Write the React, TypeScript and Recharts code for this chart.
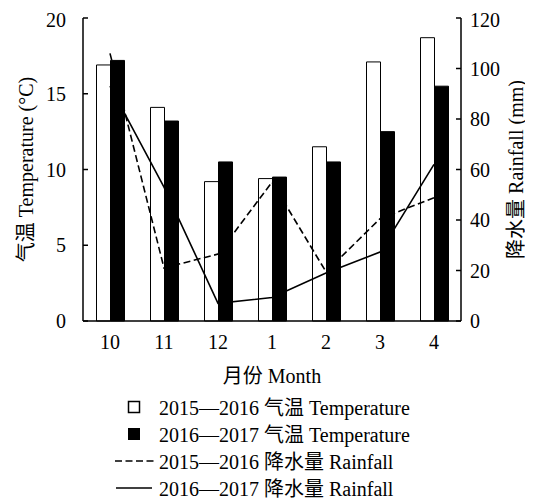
import React from 'react';
import {
  ComposedChart,
  Bar,
  Line,
  XAxis,
  YAxis,
  Legend
} from 'recharts';

// months (Oct -> Apr)
const months = ['10', '11', '12', '1', '2', '3', '4'];

// temperature (°C), bars
const temp1516 = [16.9, 14.1, 9.2, 9.4, 11.5, 17.1, 18.7];
const temp1617 = [17.2, 13.2, 10.5, 9.5, 10.5, 12.5, 15.5];

// rainfall (mm), lines
const rain1516 = [106, 21, 26.5, 55, 19.5, 40.5, 48.8];
const rain1617 = [93, 53, 7, 9.3, 19, 27.3, 62];

const tempTicks = [0, 5, 10, 15, 20];
const rainTicks = [0, 20, 40, 60, 80, 100, 120];
const boundaryTicks = [0, 1, 2, 3, 4, 5, 6, 7];

const FONT = "'Liberation Serif', 'Times New Roman', 'Noto Sans CJK SC', serif";

const data = months.map((m, i) => ({
  month: m,
  t1: temp1516[i],
  t2: temp1617[i],
  r1: rain1516[i],
  r2: rain1617[i]
}));

const legendItems = [
  { key: 't1', label: '2015—2016 气温 Temperature', kind: 'open' },
  { key: 't2', label: '2016—2017 气温 Temperature', kind: 'filled' },
  { key: 'r1', label: '2015—2016 降水量 Rainfall', kind: 'dashed' },
  { key: 'r2', label: '2016—2017 降水量 Rainfall', kind: 'solid' }
];

function LegendIcon({ kind }: { kind: string }) {
  return (
    <svg width={44} height={14} style={{ display: 'block' }}>
      {kind === 'open' && (
        <rect x={13.5} y={1.5} width={11} height={11} fill="#fff" stroke="#000" strokeWidth={1.5} />
      )}
      {kind === 'filled' && <rect x={13} y={1} width={12} height={12} fill="#000" />}
      {kind === 'dashed' && (
        <line x1={0} y1={7} x2={41} y2={7} stroke="#000" strokeWidth={1.5} strokeDasharray="7 3.5" />
      )}
      {kind === 'solid' && <line x1={1} y1={7} x2={37} y2={7} stroke="#000" strokeWidth={1.5} />}
    </svg>
  );
}

function ChartLegend() {
  return (
    <div style={{ fontFamily: FONT, fontSize: 20, color: '#000' }}>
      {legendItems.map((it) => (
        <div key={it.key} style={{ display: 'flex', alignItems: 'center', height: 27 }}>
          <LegendIcon kind={it.kind} />
          <span style={{ whiteSpace: 'nowrap' }}>{it.label}</span>
        </div>
      ))}
    </div>
  );
}

export default function App() {
  const tickStyle = { fontSize: 20, fill: '#000', fontFamily: FONT };
  return (
    <div style={{ width: 525, height: 494, background: '#fff' }}>
      <ComposedChart
        width={525}
        height={494}
        data={data}
        barCategoryGap="25%"
        barGap={0}
        margin={{ top: 10, right: 22, bottom: 121, left: 15 }}
      >
        <XAxis
          xAxisId="bounds"
          type="number"
          domain={[0, 7]}
          ticks={boundaryTicks}
          height={0}
          mirror
          tick={false}
          tickSize={5}
          axisLine={false}
          tickLine={{ stroke: '#000', strokeWidth: 1.5 }}
        />
        <XAxis
          dataKey="month"
          height={60}
          tickLine={false}
          tickSize={0}
          tickMargin={14}
          axisLine={{ stroke: '#000', strokeWidth: 1.5 }}
          tick={tickStyle}
          interval={0}
          label={{
            value: '月份 Month',
            position: 'insideTop',
            offset: 48,
            style: { fontSize: 20, fill: '#000', fontFamily: FONT }
          }}
        />
        <YAxis
          yAxisId="temp"
          orientation="left"
          width={60}
          domain={[0, 20]}
          ticks={tempTicks}
          tickSize={-5}
          tickMargin={22}
          axisLine={{ stroke: '#000', strokeWidth: 1.5 }}
          tickLine={{ stroke: '#000', strokeWidth: 1.5 }}
          tick={tickStyle}
          label={{
            value: '气温 Temperature (°C)',
            angle: -90,
            position: 'insideLeft',
            offset: 3,
            style: { fontSize: 20, fill: '#000', fontFamily: FONT, textAnchor: 'middle' }
          }}
        />
        <YAxis
          yAxisId="rain"
          orientation="right"
          width={50}
          domain={[0, 120]}
          ticks={rainTicks}
          tickSize={-5}
          tickMargin={14}
          axisLine={{ stroke: '#000', strokeWidth: 1.5 }}
          tickLine={{ stroke: '#000', strokeWidth: 1.5 }}
          tick={tickStyle}
          label={{
            value: '降水量 Rainfall (mm)',
            angle: -90,
            position: 'insideRight',
            offset: -5,
            style: { fontSize: 20, fill: '#000', fontFamily: FONT, textAnchor: 'middle' }
          }}
        />
        <Bar yAxisId="temp" dataKey="t1" fill="#fff" stroke="#000" strokeWidth={1} isAnimationActive={false} />
        <Bar yAxisId="temp" dataKey="t2" fill="#000" stroke="#000" strokeWidth={1} isAnimationActive={false} />
        <Line
          yAxisId="rain"
          dataKey="r1"
          stroke="#000"
          strokeWidth={1.6}
          strokeDasharray="7 3.5"
          dot={false}
          isAnimationActive={false}
        />
        <Line
          yAxisId="rain"
          dataKey="r2"
          stroke="#000"
          strokeWidth={1.6}
          dot={false}
          isAnimationActive={false}
        />
        <Legend
          layout="vertical"
          align="center"
          verticalAlign="middle"
          wrapperStyle={{ top: 385, left: 107, width: 400 }}
          content={() => <ChartLegend />}
        />
      </ComposedChart>
    </div>
  );
}
